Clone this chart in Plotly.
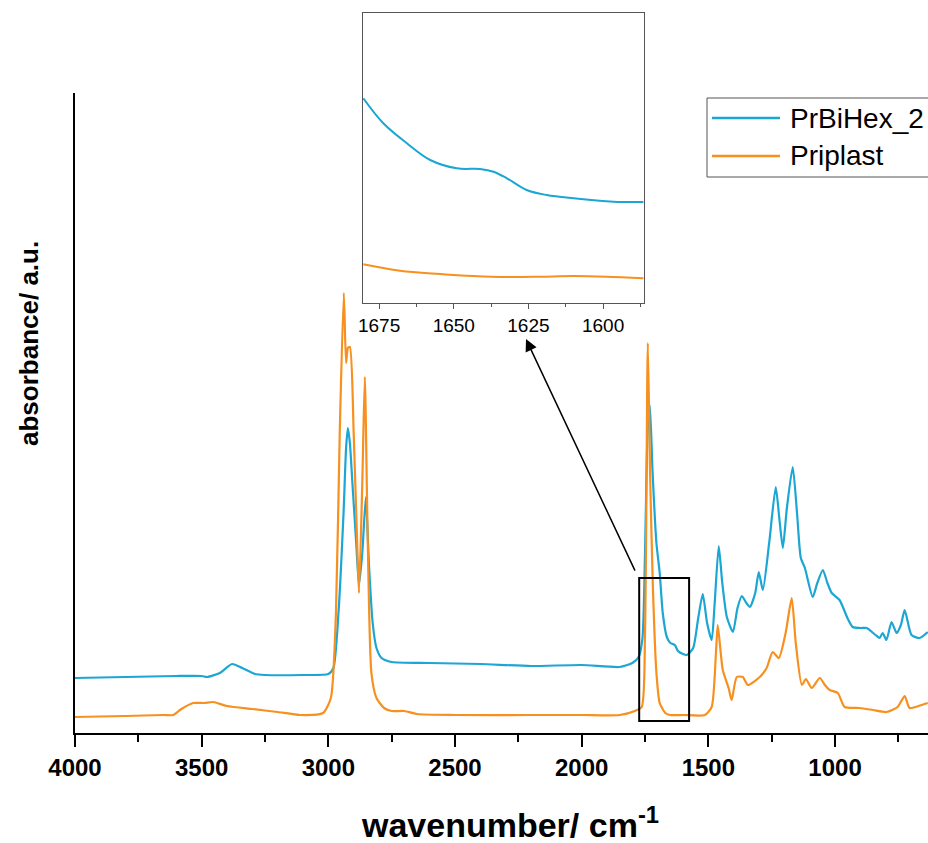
import plotly.graph_objects as go

# ---------------- data ----------------
wn_blue = [4000, 3800, 3600, 3500, 3479, 3428, 3380, 3340, 3290, 3250, 3100, 3000, 2980, 2960, 2940,
           2930, 2923, 2915, 2905, 2890, 2879, 2866, 2852, 2840, 2825, 2810, 2790, 2750, 2600, 2400, 2200, 2000,
           1850, 1800, 1775, 1760, 1750, 1740, 1731, 1720, 1705, 1692, 1680, 1664, 1650, 1640, 1632,
           1620, 1600, 1585, 1560, 1540, 1522, 1505, 1487, 1475, 1459, 1445, 1427, 1403, 1385, 1368,
           1350, 1336, 1315, 1301, 1285, 1260, 1234, 1220, 1206, 1190, 1167, 1150, 1135, 1119, 1088,
           1070, 1048, 1030, 1013, 982, 951, 930, 900, 875, 840, 824, 812, 797, 777, 757, 740, 725,
           698, 666, 634]
abs_blue = [55, 56, 57, 57, 56, 60, 69, 65, 59, 58, 58, 59, 65, 120, 220,
            285, 305, 290, 250, 190, 148, 180, 236, 170, 110, 85, 75, 71, 70, 69, 67, 68,
            66, 70, 76, 95, 180, 300, 328, 260, 190, 160, 120, 96, 90, 89, 88,
            82, 79, 78, 85, 115, 139, 110, 93, 130, 187, 150, 116, 101, 125, 137,
            130, 126, 140, 161, 143, 190, 246, 215, 185, 225, 266, 220, 175, 165, 136,
            150, 163, 150, 140, 133, 115, 106, 105, 105, 98, 95, 100, 93, 111, 100, 108, 123,
            98, 95, 101]

wn_orange = [4000, 3800, 3650, 3613, 3580, 3534, 3490, 3455, 3400, 3300, 3200, 3112, 3021, 2990, 2970,
             2955, 2939, 2930, 2923, 2915, 2900, 2885, 2879, 2866, 2856, 2845, 2830, 2810, 2780, 2750,
             2700, 2650, 2500, 2200, 2000, 1850, 1790, 1763, 1750, 1739, 1730, 1719, 1705, 1692, 1670,
             1652, 1600, 1514, 1487, 1470, 1463, 1443, 1420, 1408, 1388, 1364, 1344, 1297, 1270, 1246,
             1222, 1195, 1171, 1155, 1131, 1115, 1092, 1060, 1040, 1021, 989, 962, 903, 850, 797,
             753, 725, 706, 670, 634]
abs_orange = [16, 17, 18, 18, 24, 30, 30, 31, 27, 24, 21, 18, 20, 35, 120,
              300, 440, 370, 385, 386, 300, 180, 140, 250, 356, 200, 60, 35, 25, 22,
              22, 19, 18, 18, 18, 18, 22, 26, 100, 390, 260, 146, 60, 30, 20,
              18, 18, 18, 26, 80, 108, 63, 45, 33, 56, 56, 48, 56, 65, 81,
              75, 100, 135, 90, 48, 54, 45, 55, 48, 43, 40, 26, 25, 23, 21,
              26, 37, 25, 27, 30]

# inset (zoomed region)
inset_wn = [1680.3, 1673.6, 1665.7, 1657.9, 1649.0, 1641.2, 1636.7, 1632.2, 1625.6, 1618.9, 1609.9, 1596.5, 1586.5]
inset_blue = [204.7, 179.7, 159.7, 143.0, 134.7, 134.0, 131.3, 124.7, 113.0, 108.0, 104.7, 101.3, 101.0]
inset_wn_o = [1680.3, 1668.0, 1654.6, 1643.4, 1632.2, 1621.1, 1609.9, 1598.8, 1586.5]
inset_orange = [38.7, 32.3, 29.0, 27.0, 26.0, 26.3, 27.0, 26.3, 24.7]

x_ticks = [4000, 3500, 3000, 2500, 2000, 1500, 1000]
inset_ticks = [1675, 1650, 1625, 1600]
names = ["PrBiHex_2", "Priplast"]

BLUE = "#1ba6d3"
ORANGE = "#f7901e"
FONT = "Arial, Liberation Sans, sans-serif"
W, H = 928, 843

fig = go.Figure()
fig.add_trace(go.Scatter(x=wn_blue, y=abs_blue, mode="lines", name=names[0],
                         line=dict(color=BLUE, width=2.2, shape="spline", smoothing=0.6), xaxis="x", yaxis="y"))
fig.add_trace(go.Scatter(x=wn_orange, y=abs_orange, mode="lines", name=names[1],
                         line=dict(color=ORANGE, width=2.2, shape="spline", smoothing=0.6), xaxis="x", yaxis="y"))
fig.add_trace(go.Scatter(x=inset_wn, y=inset_blue, mode="lines", line=dict(color=BLUE, width=2, shape="spline"),
                         xaxis="x2", yaxis="y2", showlegend=False))
fig.add_trace(go.Scatter(x=inset_wn_o, y=inset_orange, mode="lines", line=dict(color=ORANGE, width=2, shape="spline"),
                         xaxis="x2", yaxis="y2", showlegend=False))

def px(x):
    return x / W

def py(y):
    return 1 - y / H

fig.update_layout(
    width=W, height=H,
    margin=dict(l=0, r=0, t=0, b=0),
    paper_bgcolor="white", plot_bgcolor="white",
    showlegend=False,
    font=dict(family=FONT, color="black"),
    xaxis=dict(domain=[px(75), 1], range=[4000, 633], tickvals=x_ticks,
               ticks="outside", ticklen=12, tickwidth=2, tickcolor="black",
               minor=dict(dtick=250, ticks="outside", ticklen=7, tickwidth=2, tickcolor="black", showgrid=False),
               showline=True, linecolor="black", linewidth=2, showgrid=False, zeroline=False,
               tickfont=dict(size=24, weight="bold", family=FONT), anchor="y", automargin=False),
    yaxis=dict(domain=[py(733), py(93)], range=[0, 640], showline=True, linecolor="black", linewidth=2,
               showticklabels=False, ticks="", showgrid=False, zeroline=False, anchor="x", automargin=False),
    xaxis2=dict(domain=[px(363), px(644)], range=[1680.4, 1586.3], tickvals=inset_ticks,
                ticks="outside", ticklen=5, tickwidth=1, tickcolor="#555",
                minor=dict(dtick=12.5, tick0=1600, ticks="outside", ticklen=3, tickwidth=1, tickcolor="#555", showgrid=False),
                showline=True, mirror=True, linecolor="#555", linewidth=1.2, showgrid=False, zeroline=False,
                tickfont=dict(size=19, family=FONT), anchor="y2", automargin=False),
    yaxis2=dict(domain=[py(303), py(13)], range=[0, 290], showline=True, mirror=True, linecolor="#555",
                linewidth=1.2, showticklabels=False, ticks="", showgrid=False, zeroline=False,
                anchor="x2", automargin=False),
)

shapes = [
    # zoom rectangle
    dict(type="rect", xref="x", yref="y", x0=1773, x1=1576, y0=12, y1=155,
         line=dict(color="black", width=2), fillcolor="rgba(0,0,0,0)"),
    # legend box
    dict(type="rect", xref="paper", yref="paper", x0=px(707), x1=px(960), y0=py(177), y1=py(98),
         line=dict(color="#555", width=1), fillcolor="white", layer="above"),
    dict(type="line", xref="paper", yref="paper", x0=px(712), x1=px(780), y0=py(118), y1=py(118),
         line=dict(color=BLUE, width=2.5)),
    dict(type="line", xref="paper", yref="paper", x0=px(712), x1=px(780), y0=py(156), y1=py(156),
         line=dict(color=ORANGE, width=2.5)),
]
fig.update_layout(shapes=shapes)

annotations = [
    dict(xref="paper", yref="paper", x=px(788), y=py(118), text=names[0], showarrow=False,
         xanchor="left", yanchor="middle", font=dict(size=28, family=FONT)),
    dict(xref="paper", yref="paper", x=px(788), y=py(156), text=names[1], showarrow=False,
         xanchor="left", yanchor="middle", font=dict(size=28, family=FONT)),
    # arrow (offsets in pixels)
    dict(xref="paper", yref="paper", axref="pixel", ayref="pixel",
         x=px(526), y=py(339), ax=638 - 526, ay=577 - 339, text=" ", showarrow=True,
         arrowhead=2, arrowsize=1.6, arrowwidth=1.5, arrowcolor="black"),
    # axis titles
    dict(xref="paper", yref="paper", x=px(510), y=py(822), text="<b>wavenumber/ cm<sup>-1</sup></b>",
         showarrow=False, xanchor="center", yanchor="middle", font=dict(size=34, family=FONT)),
    dict(xref="paper", yref="paper", x=px(29), y=py(344), text="<b>absorbance/ a.u.</b>", textangle=-90,
         showarrow=False, xanchor="center", yanchor="middle", font=dict(size=26, family=FONT)),
]
fig.update_layout(annotations=annotations)

fig.write_html("out.html")
